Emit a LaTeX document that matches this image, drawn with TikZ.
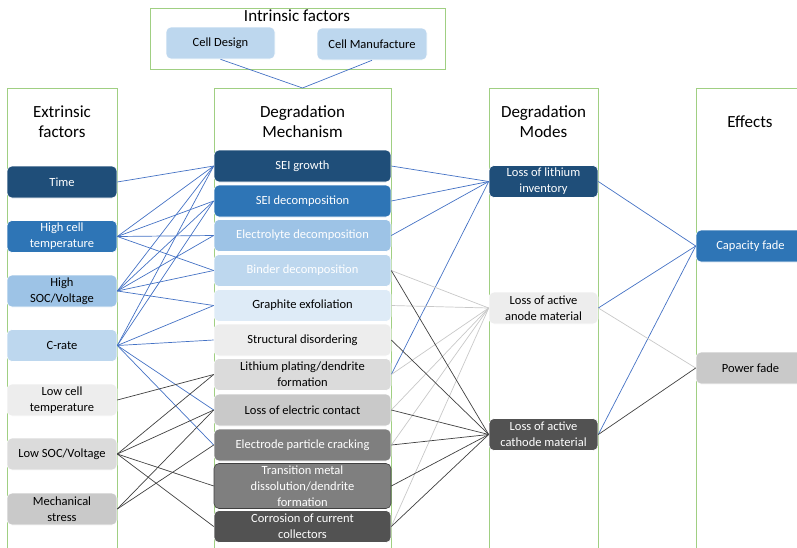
\documentclass[tikz,border=0pt]{standalone}
\usepackage{fontspec}
\setmainfont{Carlito}

\definecolor{navy}{HTML}{1F4E79}
\definecolor{midblue}{HTML}{2E75B6}
\definecolor{skyblue}{HTML}{9DC3E6}
\definecolor{paleblue}{HTML}{BDD7EE}
\definecolor{iceblue}{HTML}{DEEBF7}
\definecolor{grayA}{HTML}{EDEDED}
\definecolor{grayB}{HTML}{DBDBDB}
\definecolor{grayC}{HTML}{C9C9C9}
\definecolor{grayD}{HTML}{7F7F7F}
\definecolor{grayE}{HTML}{525252}
\definecolor{colgreen}{HTML}{A0CF82}
\definecolor{linkblue}{HTML}{4472C4}
\definecolor{linklight}{HTML}{C8C8C8}
\definecolor{linkdark}{HTML}{404040}

\begin{document}
\begin{tikzpicture}
        [x=1pt, y=-1pt,
         colbox/.style={draw=colgreen, line width=1pt},
         coltitle/.style={align=center, font=\fontsize{17}{20}\selectfont},
         box/.style={rectangle, rounded corners=5pt, draw=white, line width=0.6pt, align=center,
                     minimum height=32pt, inner sep=2pt, font=\fontsize{12.5}{16}\selectfont},
         bluelink/.style={draw=linkblue, line width=0.7pt},
         lightlink/.style={draw=linklight, line width=0.7pt},
         darklink/.style={draw=linkdark, line width=0.7pt}]

        \useasboundingbox (0,0) rectangle (797,547);

        % columns
        \draw[colbox] (150,8) rectangle (445,69);
        \foreach \xa/\xb in {7/117, 214/391, 489/598, 696/820}
        \draw[colbox] (\xa,88) rectangle (\xb,560);
        \coordinate (mech-top) at (302.5,88);

        \node[coltitle] (intr-title) at (297,16) {Intrinsic factors};
        \node[coltitle] (ext-title) at (62,122) {Extrinsic\\factors};
        \node[coltitle] (mech-title) at (302.5,122) {Degradation\\Mechanism};
        \node[coltitle] (mode-title) at (543.5,122) {Degradation\\Modes};
        \node[coltitle] (eff-title) at (750,122) {Effects};

        \node[box, fill=paleblue, minimum width=109pt] (intr-1) at (220.5,43) {Cell Design};
        \node[box, fill=paleblue, minimum width=110pt] (intr-2) at (372,44) {Cell Manufacture};

        \foreach \i/\yy/\fcol/\tcol/\lbl in {1/182/navy/white/Time, 2/236.5/midblue/white/{High cell\\temperature},
            3/291/skyblue/black/{High\\SOC/Voltage}, 4/345.5/paleblue/black/C-rate,
            5/400/grayA/black/{Low cell\\temperature}, 6/454/grayB/black/{Low SOC/Voltage},
            7/509/grayC/black/{Mechanical\\stress}}
        \node[box, fill=\fcol, text=\tcol, minimum width=110pt] (ext-\i) at (62,\yy) {\lbl};

        \foreach \i/\yy/\fcol/\tcol/\lbl in {1/166/navy/white/SEI growth, 2/201/midblue/white/SEI decomposition,
            3/235.5/skyblue/white/Electrolyte decomposition, 4/270.5/paleblue/white/Binder decomposition,
            5/305.5/iceblue/black/Graphite exfoliation, 6/340/grayA/black/Structural disordering,
            7/374.5/grayB/black/{Lithium plating/dendrite\\formation}, 8/410/grayC/black/Loss of electric contact,
            9/445/grayD/white/Electrode particle cracking, 11/526.5/grayE/white/{Corrosion of current\\collectors}}
        \node[box, fill=\fcol, text=\tcol, minimum width=177pt] (mech-\i) at (302.5,\yy) {\lbl};
        \node[box, fill=grayD, draw=linkdark, text=white, minimum width=177pt, minimum height=45pt, inner ysep=0pt]
            (mech-10) at (302.5,486) {Transition metal\\dissolution/dendrite\\formation};

        \foreach \i/\yy/\fcol/\tcol/\lbl in {1/181.5/navy/white/{Loss of lithium\\inventory},
            2/308/grayA/black/{Loss of active\\anode material}, 3/434.5/grayE/white/{Loss of active\\cathode material}}
        \node[box, fill=\fcol, text=\tcol, minimum width=109pt] (mode-\i) at (543.5,\yy) {\lbl};

        \foreach \i/\yy/\fcol/\tcol/\lbl in {1/246/midblue/white/Capacity fade, 2/368/grayC/black/Power fade}
        \node[box, fill=\fcol, text=\tcol, minimum width=109pt] (eff-\i) at (750.5,\yy) {\lbl};

        % intrinsic
        \foreach \i in {1, 2}
        \draw[bluelink] (intr-\i.south) -- (mech-top);

        % extrinsic -> mechanism
        \foreach \i/\j in {1/1, 2/1, 2/2, 2/3, 2/4, 3/1, 3/2, 3/3, 3/4, 3/5, 4/1, 4/2, 4/5, 4/6, 4/8, 4/9}
        \draw[bluelink] (ext-\i.east) -- (mech-\j.west);
        \foreach \i/\j in {5/7, 6/7, 6/8, 6/10, 6/11, 7/8, 7/9}
        \draw[darklink] (ext-\i.east) -- (mech-\j.west);

        % mechanism -> modes
        \foreach \j in {1, 2, 3, 7}
        \draw[bluelink] (mech-\j.east) -- (mode-1.west);
        \foreach \j in {4, 5, 7, 8, 9, 11}
        \draw[lightlink] (mech-\j.east) -- (mode-2.west);
        \foreach \j in {4, 6, 8, 9, 10, 11}
        \draw[darklink] (mech-\j.east) -- (mode-3.west);

        % modes -> effects
        \foreach \i in {1, 2, 3}
        \draw[bluelink] (mode-\i.east) -- (eff-1.west);
        \draw[lightlink] (mode-2.east) -- (eff-2.west);
        \draw[darklink] (mode-3.east) -- (eff-2.west);
    \end{tikzpicture}
\end{document}
